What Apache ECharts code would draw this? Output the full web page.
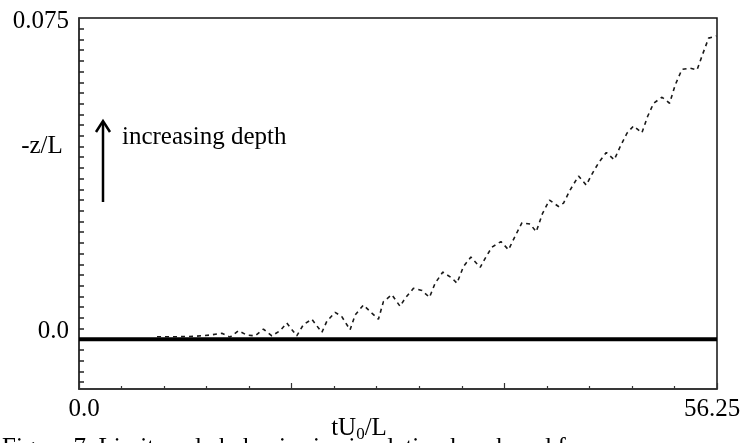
<!DOCTYPE html>
<html>
<head>
<meta charset="utf-8">
<script src="https://cdn.jsdelivr.net/npm/echarts@6/dist/echarts.min.js"></script>
<style>
html,body{margin:0;padding:0;background:#fff;}
#chart{width:744px;height:443px;}
</style>
</head>
<body>
<div id="chart"></div>
<script>
// time values tU0/L
const tValues = [6.88, 8.47, 10.23, 11.56, 12.59, 13.32, 14.05, 14.79, 15.52, 16.26, 17.00, 17.73, 18.32, 19.20, 19.78, 20.53, 21.41, 21.85, 22.58, 23.17, 23.90, 24.35, 25.08, 25.82, 26.40, 26.84, 27.58, 28.31, 28.76, 29.49, 30.23, 30.90, 31.40, 32.08, 32.87, 33.32, 33.90, 34.55, 35.37, 35.81, 36.40, 37.20, 37.87, 38.40, 39.05, 39.78, 40.31, 40.87, 41.48, 42.28, 42.72, 43.31, 44.04, 44.72, 45.28, 45.81, 46.49, 47.19, 47.72, 48.31, 48.89, 49.63, 50.13, 50.66, 51.40, 52.07, 52.57, 53.16, 53.89, 54.49, 55.02, 55.51, 56.19];
// depth values -z/L
const zValues = [0.0006, 0.0006, 0.0007, 0.0010, 0.0014, 0.0005, 0.0020, 0.0010, 0.0008, 0.0024, 0.0008, 0.0020, 0.0038, 0.0008, 0.0034, 0.0047, 0.0016, 0.0042, 0.0063, 0.0053, 0.0022, 0.0057, 0.0080, 0.0061, 0.0047, 0.0088, 0.0104, 0.0077, 0.0096, 0.0119, 0.0114, 0.0098, 0.0131, 0.0157, 0.0143, 0.0131, 0.0170, 0.0192, 0.0168, 0.0189, 0.0215, 0.0228, 0.0209, 0.0238, 0.0272, 0.0269, 0.0251, 0.0294, 0.0325, 0.0310, 0.0318, 0.0349, 0.0381, 0.0360, 0.0388, 0.0412, 0.0436, 0.0419, 0.0450, 0.0481, 0.0498, 0.0482, 0.0520, 0.0551, 0.0565, 0.0551, 0.0594, 0.0630, 0.0633, 0.0629, 0.0668, 0.0703, 0.0708];
// zero reference line
const zeroLineT = [0, 56.25];
const zeroLineZ = [0, 0];
// tick labels
const xLabelValues = [0, 56.25];
const xLabelTexts = ['0.0', '56.25'];
const yLabelValues = [0, 0.075];
const yLabelTexts = ['0.0', '0.075'];
const yTickStep = 0.0025;
const yTickFirst = -0.01;
const yTickLast = 0.0725;

const yTicks = [];
for (let k = 0; yTickFirst + k * yTickStep <= yTickLast + 1e-9; k++) {
  yTicks.push(+(yTickFirst + k * yTickStep).toFixed(5));
}

const FONT = '"Liberation Serif", "Times New Roman", serif';
const chart = echarts.init(document.getElementById('chart'), null, {renderer: 'canvas'});

chart.setOption({
  animation: false,
  backgroundColor: '#fff',
  grid: {left: 79, right: 27, top: 18, bottom: 54, containLabel: false, outerBoundsMode: 'none', show: true, borderColor: '#111', borderWidth: 1.5, backgroundColor: 'transparent'},
  xAxis: {
    type: 'value', min: 0, max: 56.25, interval: 18.75,
    axisLine: {show: true, onZero: false, lineStyle: {color: '#333', width: 1.5}},
    axisTick: {show: true, inside: true, length: 6, lineStyle: {color: '#333', width: 1.2}},
    minorTick: {show: true, splitNumber: 5, length: 3, lineStyle: {color: '#333', width: 1.2}},
    splitLine: {show: false},
    axisLabel: {
      customValues: xLabelValues,
      margin: 8,
      formatter: function (v) { const i = xLabelValues.indexOf(v); return i === 0 ? '{l|' + xLabelTexts[0] + '}' : '{r|' + xLabelTexts[1] + '}'; },
      rich: {
        l: {fontFamily: FONT, fontSize: 25, color: '#000', padding: [0, 0, 0, 10]},
        r: {fontFamily: FONT, fontSize: 25, color: '#000', padding: [0, 10, 0, 0]}
      }
    },
    name: '{n|tU}{s|0}{n|/L}',
    nameLocation: 'middle',
    nameGap: 25,
    nameMoveOverlap: false,
    nameTextStyle: {
      padding: [0, 78, 0, 0],
      rich: {
        n: {fontFamily: FONT, fontSize: 25, color: '#000'},
        s: {fontFamily: FONT, fontSize: 17, color: '#000', padding: [12, 0, 0, 0]}
      }
    }
  },
  yAxis: {
    type: 'value', min: -0.0116, max: 0.075,
    axisLine: {show: true, onZero: false, lineStyle: {color: '#333', width: 1.5}},
    axisTick: {show: true, inside: true, length: 5, customValues: yTicks, lineStyle: {color: '#222', width: 1.5}},
    splitLine: {show: false},
    axisLabel: {
      customValues: yLabelValues,
      margin: 10,
      formatter: function (v) { const i = yLabelValues.indexOf(v); return i === 0 ? '{b|' + yLabelTexts[0] + '}' : '{a|' + yLabelTexts[1] + '}'; },
      rich: {
        a: {fontFamily: FONT, fontSize: 25, color: '#000', padding: [6, 0, 0, 0]},
        b: {fontFamily: FONT, fontSize: 25, color: '#000', padding: [0, 0, 16, 0]}
      }
    }
  },
  series: [
    {
      type: 'line', name: 'zero', symbol: 'none', silent: true, z: 2,
      data: zeroLineT.map((t, i) => [t, zeroLineZ[i]]),
      lineStyle: {color: '#000', width: 4}
    },
    {
      type: 'line', name: 'depth', symbol: 'none', silent: true, z: 3,
      data: tValues.map((t, i) => [t, zValues[i]]),
      lineStyle: {color: '#1a1a1a', width: 1.6, type: [4, 4]}
    }
  ],
  graphic: [
    {type: 'line', shape: {x1: 103, y1: 202, x2: 103, y2: 123}, style: {stroke: '#000', lineWidth: 2.5}},
    {type: 'polyline', shape: {points: [[96, 132], [103, 121], [110, 132]]}, style: {stroke: '#000', lineWidth: 2.5, fill: null}},
    {type: 'text', x: 122, y: 137, style: {text: 'increasing depth', font: '25px ' + FONT, fill: '#000', align: 'left', verticalAlign: 'middle'}},
    {type: 'text', x: 42, y: 146, style: {text: '-z/L', font: '25px ' + FONT, fill: '#000', align: 'center', verticalAlign: 'middle'}},
    {type: 'text', x: 2, y: 448, style: {text: 'Figure 7. Limit cycle behavior in simulation beach and f', font: '25px ' + FONT, fill: '#000', align: 'left', verticalAlign: 'middle'}}
  ]
});
</script>
</body>
</html>
